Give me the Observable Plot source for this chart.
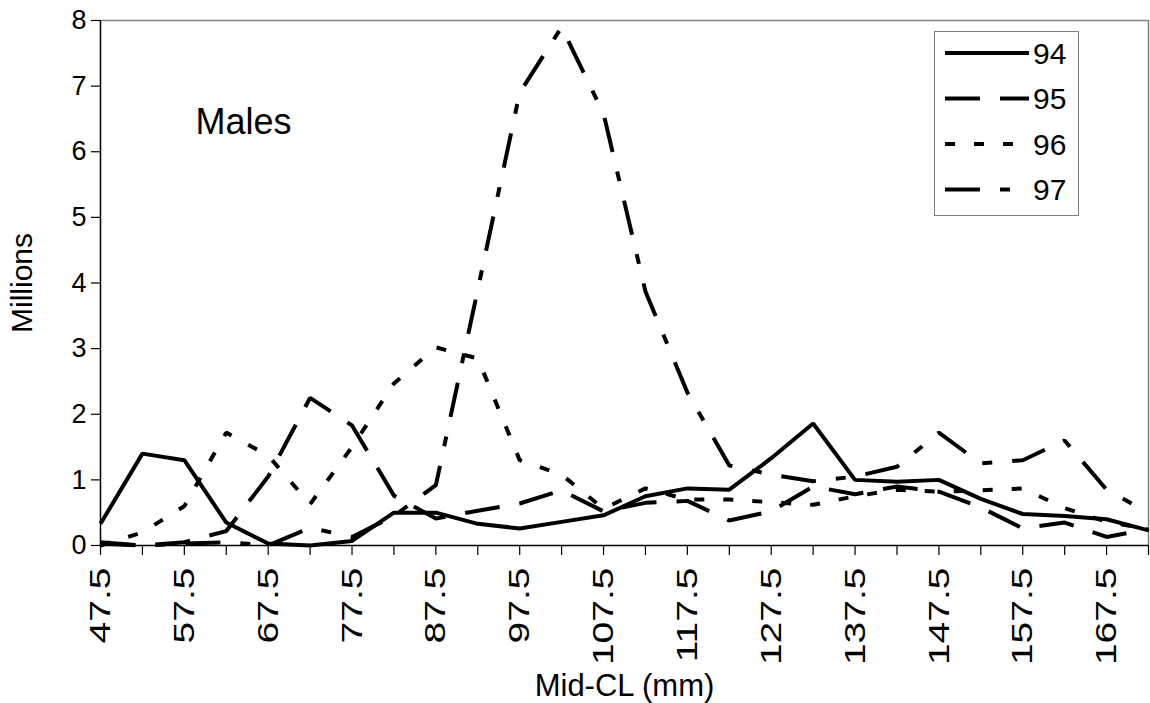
<!DOCTYPE html>
<html><head><meta charset="utf-8">
<script src="https://cdn.jsdelivr.net/npm/d3@7"></script>
<script src="https://cdn.jsdelivr.net/npm/@observablehq/plot@0.6"></script>
<style>
body{margin:0;background:#fff;font-family:"Liberation Sans",Arial,sans-serif}
#wrap{position:relative;width:1150px;height:703px}
#legend{position:absolute;left:934px;top:31px;width:145px;height:185px;border:1px solid #808080;background:#fff;box-sizing:border-box}
</style></head><body><div id="wrap"></div>
<script>
const midCL = [47.5,52.5,57.5,62.5,67.5,72.5,77.5,82.5,87.5,92.5,97.5,102.5,107.5,112.5,117.5,122.5,127.5,132.5,137.5,142.5,147.5,152.5,157.5,162.5,167.5,172.5];
const s94 = [0.33,1.40,1.30,0.35,0.03,0.00,0.07,0.50,0.50,0.33,0.26,0.36,0.46,0.75,0.87,0.85,1.33,1.86,1.00,0.97,1.00,0.71,0.48,0.45,0.40,0.23];
const s95 = [0.05,0.00,0.05,0.22,1.05,2.25,1.83,0.76,0.41,0.53,0.64,0.84,0.52,0.65,0.68,0.38,0.52,0.90,0.78,0.90,0.82,0.58,0.26,0.35,0.13,0.25];
const s96 = [0.00,0.20,0.60,1.72,1.37,0.63,1.50,2.47,3.02,2.85,1.30,1.08,0.56,0.87,0.70,0.70,0.66,0.62,0.75,0.85,0.82,0.84,0.87,0.57,0.36,0.25];
const s97 = [0.03,0.00,0.03,0.05,0.00,0.27,0.13,0.45,0.92,3.90,6.90,7.90,6.58,3.87,2.33,1.22,1.08,0.98,1.05,1.20,1.72,1.25,1.30,1.60,0.85,0.50];
const seriesNames = ["94","95","96","97"];
const xLabelVals = [47.5,57.5,67.5,77.5,87.5,97.5,107.5,117.5,127.5,137.5,147.5,157.5,167.5];
const xTickLabels = ["47.5","57.5","67.5","77.5","87.5","97.5","107.5","117.5","127.5","137.5","147.5","157.5","167.5"];
const yTicks = [0,1,2,3,4,5,6,7,8];
const xTitle = "Mid-CL (mm)";
const yTitle = "Millions";
const panelLabel = "Males";

const dashes = {"94": null, "95": "35,20", "96": "10,19", "97": "35,20,10,20"};
const rows = midCL.map((x, i) => ({x, y94: s94[i], y95: s95[i], y96: s96[i], y97: s97[i]}));
const font = '"Liberation Sans", Arial, sans-serif';

const lineMarks = seriesNames.map(n => Plot.line(rows, {
  x: "x", y: "y" + n, stroke: "black", strokeWidth: 4,
  strokeDasharray: dashes[n], strokeLinejoin: "miter", strokeLinecap: "butt"
}));

const chart = Plot.plot({
  width: 1150, height: 703,
  marginLeft: 100, marginRight: 2, marginTop: 20, marginBottom: 158,
  style: {fontFamily: font, fontSize: "27px", color: "black", background: "white"},
  x: {domain: [47.5, 172.5]},
  y: {domain: [0, 8]},
  marks: [
    Plot.ruleY([8], {stroke: "#808080", strokeWidth: 1.5}),
    Plot.ruleX([172.5], {stroke: "#808080", strokeWidth: 1.5}),
    ...lineMarks,
    Plot.ruleY([0], {stroke: "black", strokeWidth: 1.5}),
    Plot.ruleX([47.5], {stroke: "black", strokeWidth: 1.5}),
    Plot.axisY({ticks: yTicks, tickSize: 9, tickPadding: 5, fontSize: 27, strokeWidth: 1.2,
      label: null}),
    Plot.axisY({ticks: [], tickSize: 0, fontSize: 30,
      label: yTitle, labelAnchor: "center", labelOffset: 90, labelArrow: "none"}),
    Plot.axisX({ticks: midCL, tickSize: 10, strokeWidth: 1.2, tickFormat: () => "", label: null}),
    Plot.axisX({ticks: xLabelVals, tickSize: 0, tickRotate: -90, tickPadding: 22, fontSize: 30,
      tickFormat: d => xTickLabels[xLabelVals.indexOf(d)], label: null}),
    Plot.axisX({ticks: [], tickSize: 0, fontSize: 31,
      label: xTitle, labelAnchor: "center", labelOffset: 150, labelArrow: "none"}),
    Plot.text([panelLabel], {frameAnchor: "top-left", dx: 95, dy: 88, fontSize: 36, textAnchor: "start", text: d => d})
  ]
});
const wrap = document.getElementById("wrap");
wrap.appendChild(chart);

// stretch the rotated tick labels along their reading direction, as in the reference
d3.select(chart).selectAll('g[aria-label="x-axis tick label"] text').each(function() {
  const t = this.getAttribute("transform");
  if (t && t.includes("rotate")) this.setAttribute("transform", t + " scale(1.3,1)");
});

// legend inside the plot area
const legend = document.createElement("div");
legend.id = "legend";
const ns = "http://www.w3.org/2000/svg";
const lsvg = document.createElementNS(ns, "svg");
lsvg.setAttribute("width", 143); lsvg.setAttribute("height", 183);
seriesNames.forEach((n, i) => {
  const yy = 21 + i * 45.5;
  const ln = document.createElementNS(ns, "line");
  ln.setAttribute("x1", 10); ln.setAttribute("x2", 94);
  ln.setAttribute("y1", yy); ln.setAttribute("y2", yy);
  ln.setAttribute("stroke", "black"); ln.setAttribute("stroke-width", 4);
  if (dashes[n]) ln.setAttribute("stroke-dasharray", dashes[n]);
  lsvg.appendChild(ln);
  const t = document.createElementNS(ns, "text");
  t.setAttribute("x", 98); t.setAttribute("y", yy);
  t.setAttribute("dy", "0.36em");
  t.setAttribute("font-family", font); t.setAttribute("font-size", 30);
  t.textContent = n;
  lsvg.appendChild(t);
});
legend.appendChild(lsvg);
wrap.appendChild(legend);
</script></body></html>
